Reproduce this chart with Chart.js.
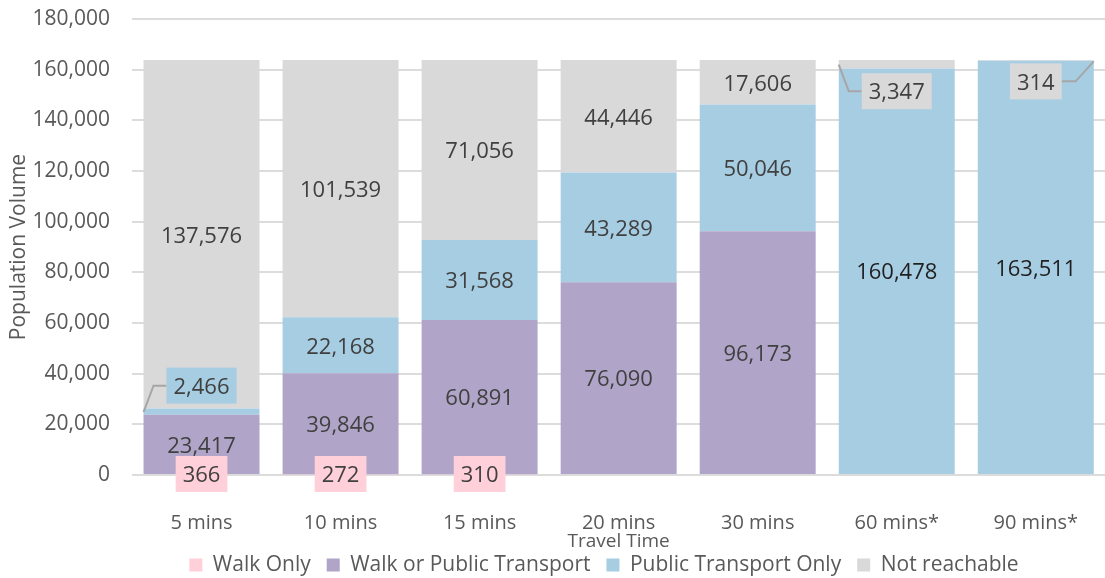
<!DOCTYPE html>
<html><head><meta charset="utf-8">
<script src="https://cdn.jsdelivr.net/npm/chart.js"></script>
<style>
html,body{margin:0;padding:0;background:#fff;overflow:hidden;}
#wrap{width:1105px;height:578px;overflow:hidden;position:relative;}
canvas{display:block;}
</style></head><body>
<div id="wrap"><canvas id="c" width="1114" height="578"></canvas></div>
<script>
// ---- data ----
const categories = ['5 mins','10 mins','15 mins','20 mins','30 mins','60 mins*','90 mins*'];
const walkOnly = [366, 272, 310, 0, 0, 0, 0];
const walkOrPT = [23417, 39846, 60891, 76090, 96173, 0, 0];
const ptOnly = [2466, 22168, 31568, 43289, 50046, 160478, 163511];
const notReachable = [137576, 101539, 71056, 44446, 17606, 3347, 314];
const seriesNames = ['Walk Only','Walk or Public Transport','Public Transport Only','Not reachable'];
const yMin = 0, yMax = 180000, yStep = 20000;
const xTitle = 'Travel Time';
const yTitle = 'Population Volume';

// ---- styles ----
const colors = ['#FFCFDA', '#B0A5C8', '#A7CDE3', '#D9D9D9'];
const FONT = "'Open Sans', 'Noto Sans', sans-serif";
const callouts = [
  {ds: 2, i: 0, dy: -26, side: 'left'},
  {ds: 3, i: 5, dy: 27, side: 'left'},
  {ds: 3, i: 6, dy: 21, side: 'right'}
];
const darkLabels = [{ds: 2, i: 5}, {ds: 2, i: 6}];
const legendShift = 47;

const legendShiftPlugin = {
  id: 'legendShift',
  afterLayout(chart) {
    if (chart.legend) {
      chart.legend.left += legendShift;
      chart.legend.right += legendShift;
    }
  }
};

const labelPlugin = {
  id: 'segLabels',
  afterDatasetsDraw(chart) {
    const ctx = chart.ctx;
    ctx.save();
    ctx.font = "22px " + FONT;
    ctx.textAlign = 'center';
    ctx.textBaseline = 'middle';
    chart.data.datasets.forEach((ds, di) => {
      const meta = chart.getDatasetMeta(di);
      meta.data.forEach((bar, i) => {
        const v = ds.data[i];
        if (!v) return;
        const text = v.toLocaleString('en-US');
        const tw = ctx.measureText(text).width;
        const segY = (bar.y + bar.base) / 2;
        const co = callouts.find(c => c.ds === di && c.i === i);
        let cx = bar.x, cy = segY, box = false;
        if (di === 0) { cy = bar.base; box = true; }
        if (co) { cy = segY + co.dy; box = true; }
        if (box) {
          const bw = tw + 14, bh = 36;
          const bl = cx - bw / 2, br = cx + bw / 2;
          if (co) {
            ctx.strokeStyle = '#A6A6A6';
            ctx.lineWidth = 2;
            ctx.beginPath();
            if (co.side === 'left') {
              ctx.moveTo(bar.x - bar.width / 2, segY + 0.5);
              ctx.lineTo(bl - 13, cy);
              ctx.lineTo(bl, cy);
            } else {
              ctx.moveTo(bar.x + bar.width / 2, segY + 1);
              ctx.lineTo(br + 14, cy);
              ctx.lineTo(br, cy);
            }
            ctx.stroke();
          }
          ctx.fillStyle = colors[di];
          ctx.fillRect(bl, cy - bh / 2, bw, bh);
        }
        const dark = darkLabels.some(d => d.ds === di && d.i === i);
        ctx.fillStyle = dark ? '#1F1F1F' : '#404040';
        ctx.fillText(text, cx, cy + 2);
      });
    });
    ctx.restore();
  }
};

Chart.defaults.font.family = FONT;
Chart.defaults.color = '#595959';

new Chart(document.getElementById('c'), {
  type: 'bar',
  data: {
    labels: categories,
    datasets: [walkOnly, walkOrPT, ptOnly, notReachable].map((d, k) => ({
      label: seriesNames[k],
      data: d,
      backgroundColor: colors[k],
      borderWidth: 0,
      categoryPercentage: 0.834,
      barPercentage: 1
    }))
  },
  options: {
    responsive: false,
    animation: false,
    layout: {padding: {left: 0, right: 0, top: 19, bottom: -7.5}},
    plugins: {
      tooltip: {enabled: false},
      legend: {
        position: 'bottom',
        labels: {font: {size: 21}, boxWidth: 13, boxHeight: 13, padding: 16, color: '#595959'}
      }
    },
    scales: {
      x: {
        stacked: true,
        grid: {display: false, drawTicks: false},
        border: {display: false},
        ticks: {font: {size: 20}, padding: 36, color: '#595959'},
        title: {display: true, text: xTitle, font: {size: 19}, color: '#595959', padding: {top: 0, bottom: -14.4}},
        afterFit(s) { s.height = 63.5; }
      },
      y: {
        stacked: true,
        min: yMin, max: yMax,
        grid: {color: '#DCDCDC', lineWidth: 2, drawTicks: false},
        border: {display: false},
        ticks: {stepSize: yStep, font: {size: 21}, padding: 22, color: '#595959',
          callback: v => v.toLocaleString('en-US')},
        title: {display: true, text: yTitle, font: {size: 21}, color: '#595959', padding: {top: 6, bottom: 0}},
        afterFit(s) { s.width = 132; s.paddingTop = 0; s.paddingBottom = 0; }
      }
    }
  },
  plugins: [labelPlugin, legendShiftPlugin]
});
</script>
</body></html>
